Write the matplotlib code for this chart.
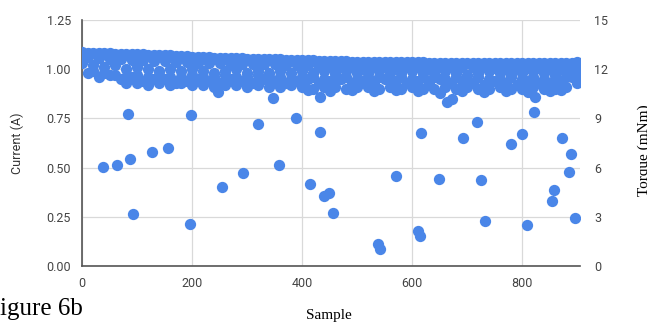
import matplotlib.pyplot as plt

# Current (A) per sample
# upper edge of the dense band (samples 0, 10, ..., 900)
top_x = list(range(0, 901, 10))
top_y = [1.085, 1.084, 1.083, 1.082, 1.081, 1.080, 1.079, 1.079, 1.078, 1.077,
         1.076, 1.075, 1.074, 1.073, 1.072, 1.071, 1.070, 1.069, 1.068, 1.067,
         1.064, 1.062, 1.061, 1.060, 1.059, 1.058, 1.057, 1.057, 1.056, 1.055,
         1.054, 1.053, 1.052, 1.051, 1.050, 1.050, 1.050, 1.049, 1.048, 1.048,
         1.046, 1.045, 1.045, 1.044, 1.042, 1.041, 1.040, 1.040, 1.040, 1.039,
         1.038, 1.038, 1.038, 1.037, 1.037, 1.036, 1.036, 1.036, 1.036, 1.035,
         1.035, 1.035, 1.035, 1.034, 1.034, 1.034, 1.034, 1.033, 1.033, 1.033,
         1.033, 1.033, 1.033, 1.032, 1.032, 1.032, 1.032, 1.031, 1.031, 1.031,
         1.031, 1.030, 1.030, 1.030, 1.030, 1.030, 1.030, 1.030, 1.031, 1.033,
         1.035]

# second row (samples 10, 30, ..., 890)
mid_x = list(range(10, 891, 20))
mid_y = [1.060, 1.055, 1.050, 1.050, 1.045, 1.045, 1.040, 1.040, 1.035, 1.035,
         1.032, 1.030, 1.030, 1.028, 1.027, 1.025, 1.025, 1.024, 1.022, 1.020,
         1.020, 1.018, 1.018, 1.017, 1.016, 1.015, 1.015, 1.015, 1.014, 1.013,
         1.012, 1.012, 1.011, 1.010, 1.010, 1.010, 1.010, 1.008, 1.008, 1.007,
         1.006, 1.006, 1.005, 1.005, 1.008]

# third row (samples 0, 20, ..., 900)
low_x = list(range(0, 901, 20))
low_y = [1.03, 1.02, 1.01, 1.02, 1.00, 1.01, 1.00, 0.99, 1.00, 0.99,
         1.00, 0.99, 0.98, 0.99, 1.00, 0.98, 0.99, 0.98, 0.99, 0.98,
         0.99, 0.98, 0.99, 0.98, 0.99, 0.98, 0.98, 0.99, 0.98, 0.98,
         0.99, 0.98, 0.98, 0.99, 0.98, 0.97, 0.98, 0.99, 0.98, 0.97,
         0.98, 0.99, 0.98, 0.97, 0.98, 1.00]

# fourth row (samples 20, 40, ..., 900)
inner_x = list(range(20, 901, 20))
inner_y = [0.99, 0.98, 0.97, 0.96, 0.97, 0.96, 0.97, 0.96, 0.96, 0.97,
           0.96, 0.96, 0.97, 0.96, 0.96, 0.97, 0.96, 0.96, 0.95, 0.96,
           0.96, 0.95, 0.96, 0.96, 0.95, 0.96, 0.96, 0.95, 0.96, 0.95,
           0.96, 0.96, 0.95, 0.96, 0.95, 0.96, 0.95, 0.95, 0.96, 0.95,
           0.96, 0.95, 0.95, 0.96, 0.97]

# fifth row (samples 10, 30, ..., 890)
base_x = list(range(10, 891, 20))
base_y = [0.98, 0.96, 0.97, 0.95, 0.96, 0.94, 0.95, 0.95, 0.93, 0.94,
          0.95, 0.94, 0.93, 0.95, 0.94, 0.93, 0.95, 0.94, 0.93, 0.94,
          0.95, 0.93, 0.94, 0.95, 0.93, 0.94, 0.93, 0.95, 0.94, 0.93,
          0.94, 0.93, 0.95, 0.93, 0.94, 0.93, 0.92, 0.94, 0.93, 0.92,
          0.94, 0.93, 0.92, 0.94, 0.96]

# sixth row (samples 80, 100, ..., 900)
floor_x = list(range(80, 901, 20))
floor_y = [0.93, 0.93, 0.92, 0.93, 0.92, 0.93, 0.92, 0.92, 0.91, 0.92,
           0.92, 0.91, 0.92, 0.91, 0.91, 0.92, 0.91, 0.90, 0.91, 0.91,
           0.90, 0.91, 0.91, 0.90, 0.91, 0.90, 0.91, 0.90, 0.90, 0.91,
           0.90, 0.91, 0.90, 0.90, 0.91, 0.90, 0.90, 0.91, 0.90, 0.90,
           0.91, 0.93]

# lower edge of the band on the right half
edge_x = [410, 450, 490, 530, 570, 610, 650, 690, 730, 770, 810, 850, 870]
edge_y = [0.895, 0.89, 0.895, 0.89, 0.895, 0.89, 0.88, 0.89, 0.885, 0.89,
          0.885, 0.89, 0.895]

# scattered low readings
out_x = [38, 64, 87, 84, 93, 127, 156, 196, 198, 255, 293, 320, 358, 389, 415,
         433, 440, 449, 456, 571, 538, 542, 649, 611, 615, 616, 693, 718, 725,
         733, 780, 800, 809, 822, 855, 858, 873, 889, 885, 896,
         247, 347, 433, 663, 672, 824]
out_y = [0.503, 0.513, 0.544, 0.772, 0.264, 0.579, 0.600, 0.213, 0.767, 0.401,
         0.473, 0.722, 0.513, 0.752, 0.417, 0.681, 0.356, 0.371, 0.269, 0.457,
         0.112, 0.086, 0.442, 0.178, 0.152, 0.676, 0.650, 0.732, 0.437, 0.229,
         0.620, 0.671, 0.208, 0.782, 0.330, 0.386, 0.650, 0.569, 0.478, 0.245,
         0.884, 0.853, 0.858, 0.833, 0.850, 0.860]

x_ticks = [0, 200, 400, 600, 800]
y_ticks = [0.00, 0.25, 0.50, 0.75, 1.00, 1.25]
y2_ticks = [0, 3, 6, 9, 12, 15]

blue = '#4a86e8'
tick_font = dict(family='Roboto', size=9, color='#444444')

fig = plt.figure(figsize=(6.47, 3.24), dpi=100)
ax = fig.add_axes([82 / 647, 58 / 324, 498 / 647, 246 / 324])

xs = top_x + mid_x + low_x + inner_x + base_x + floor_x + edge_x + out_x
ys = top_y + mid_y + low_y + inner_y + base_y + floor_y + edge_y + out_y
ax.scatter(xs, ys, s=66, color=blue, linewidths=0, zorder=3)

ax.set_xlim(0, 905)
ax.set_ylim(0, 1.25)
ax.set_xticks(x_ticks)
ax.set_yticks(y_ticks)
ax.set_yticklabels(['%.2f' % v for v in y_ticks], fontdict=tick_font)
ax.set_xticklabels([str(v) for v in x_ticks], fontdict=tick_font)
ax.tick_params(length=0, pad=8)
ax.grid(True, color='#d9d9d9', linewidth=0.9)
ax.set_axisbelow(True)
for side in ['top', 'right']:
    ax.spines[side].set_visible(False)
for side in ['left', 'bottom']:
    ax.spines[side].set_color('#555555')
    ax.spines[side].set_linewidth(1.2)
ax.set_ylabel('Current (A)', family='Roboto', size=9, color='#333333', labelpad=16)

ax2 = ax.twinx()
ax2.set_ylim(0, 15)
ax2.set_yticks(y2_ticks)
ax2.set_yticklabels([str(v) for v in y2_ticks], fontdict=tick_font)
ax2.tick_params(length=0, pad=10)
for side in ['top', 'right', 'left', 'bottom']:
    ax2.spines[side].set_visible(False)

fig.text(329 / 647, 1 - 316 / 324, 'Sample', family='Liberation Serif', size=11,
         ha='center', va='center')
fig.text(644 / 647, 1 - 150 / 324, 'Torque (mNm)', family='Liberation Serif',
         size=11, rotation=90, ha='center', va='center')
fig.text(-14 / 647, 1 - 315 / 324, 'Figure 6b', family='Liberation Serif',
         size=18, ha='left', va='baseline')

plt.savefig('out.png', dpi=100)
